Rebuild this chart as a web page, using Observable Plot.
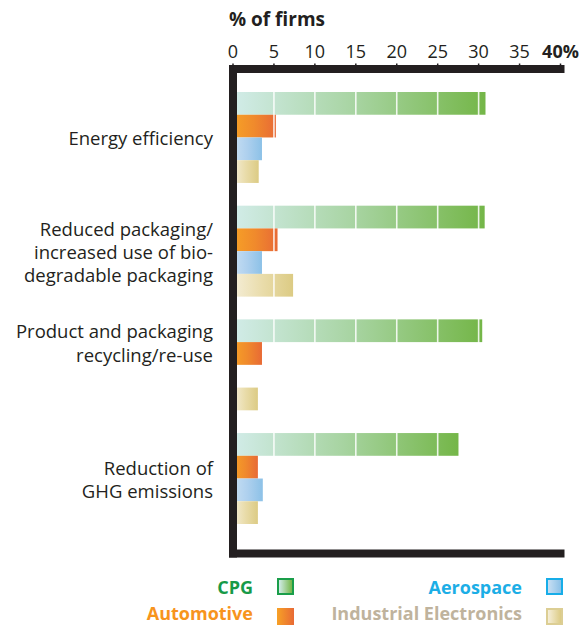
<!DOCTYPE html>
<html>
<head>
<meta charset="utf-8">
<script src="https://cdn.jsdelivr.net/npm/d3@7"></script>
<script src="https://cdn.jsdelivr.net/npm/@observablehq/plot@0.6"></script>
<style>
  body { margin: 0; background: #fff; font-family: "Open Sans", Lato, sans-serif; color: #231f20; overflow: hidden; }
  #wrap { width: 588px; }
  .title { height: 32px; box-sizing: border-box; padding: 5px 0 0 229px; line-height: 28px; font-size: 19px; font-weight: 700; }
  #chart svg { display: block; }
  .legend { display: grid; grid-template-columns: 253px 41px 228px 41px; grid-template-rows: 31px 24px; padding-top: 9px; font-size: 18px; font-weight: 700; }
  .legend .lab { display: flex; justify-content: flex-end; white-space: nowrap; line-height: 18px; }
  .legend .sw { display: flex; }
  .legend .sw span { display: block; width: 17px; height: 17px; box-sizing: border-box; margin-left: 24px; }
  .legend .r0 { align-items: center; }
  .legend .r1 { align-items: flex-end; }
  .legend .lab.r1 { padding-bottom: 4px; }
  .legend .sw.r1 span { margin-bottom: 1px; }
</style>
</head>
<body>
<div id="wrap">
  <div class="title">% of firms</div>
  <div id="chart"></div>
  <div class="legend" id="legend"></div>
</div>
<script>
// Survey categories (y groups) and the four industry series
const categories = [
  "Energy efficiency",
  "Reduced packaging/\nincreased use of bio-\ndegradable packaging",
  "Product and packaging\nrecycling/re-use",
  "Reduction of\nGHG emissions"
];
const series = ["CPG", "Automotive", "Aerospace", "Industrial Electronics"];

// % of firms, one value per category
const cpg        = [30.9, 30.8, 30.5, 27.6];
const automotive = [5.3, 5.5, 3.6, 3.1];
const aerospace  = [3.6, 3.6, 0, 3.7];
const industrial = [3.2, 7.4, 3.1, 3.1];

// Bar beside which each category label is centred (label sits on that bar's top edge)
const labelBar = ["Aerospace", "Aerospace", "Automotive", "Aerospace"];

const xTicks = [0, 5, 10, 15, 20, 25, 30, 35];
const xMax = 40;

// Colours: gradient stops per series, legend text and swatch border colours
const gradients = {
  "CPG": ["#d2ece9", "#a6d39f", "#74b648"],
  "Automotive": ["#f7a126", "#f08a2c", "#e86a35"],
  "Aerospace": ["#c8dff3", "#aed0ee", "#8cc1e7"],
  "Industrial Electronics": ["#f5eed8", "#e9dcaa", "#dccb84"]
};
const legendText = {
  "CPG": "#179a48",
  "Automotive": "#f7941d",
  "Aerospace": "#1caee6",
  "Industrial Electronics": "#bfb39d"
};
const legendBorder = {
  "CPG": "#1a9e4a",
  "Automotive": "#f28a22",
  "Aerospace": "#17ade8",
  "Industrial Electronics": "#dcce94"
};

const values = [cpg, automotive, aerospace, industrial];
const gradId = s => "grad-" + series.indexOf(s);

// One band per bar, with a spacer band between consecutive categories
const yDomain = [];
categories.forEach((c, gi) => {
  if (gi > 0) yDomain.push("gap" + gi);
  series.forEach(s => yDomain.push(gi + "|" + s));
});

const rows = [];
categories.forEach((c, gi) => {
  series.forEach((s, si) => {
    rows.push({key: gi + "|" + s, series: s, value: values[si][gi]});
  });
});
const labelRows = categories.map((c, gi) => ({key: gi + "|" + labelBar[gi], label: c}));

const width = 588, height = 530;
const marginTop = 36.5, marginBottom = 9, marginLeft = 232.5, marginRight = 28;
const insetTop = 23.5, insetBottom = 29;
const bandwidth = (height - marginTop - marginBottom - insetTop - insetBottom) / yDomain.length;

const ink = "#231f20";
const font = "'Open Sans', Lato, sans-serif";

const chart = Plot.plot({
  width, height, marginTop, marginBottom, marginLeft, marginRight,
  style: {fontFamily: font, color: ink, background: "white"},
  x: {domain: [0, xMax], axis: null},
  y: {type: "band", domain: yDomain, paddingInner: 0, paddingOuter: 0, round: false, insetTop, insetBottom, axis: null},
  marks: [
    Plot.barX(rows, {x: "value", y: "key", fill: d => "url(#" + gradId(d.series) + ")"}),
    Plot.ruleX(xTicks.slice(1), {stroke: "white", strokeWidth: 1.6, strokeOpacity: 0.85}),
    Plot.text(labelRows, {
      y: "key", text: "label", frameAnchor: "left", dx: -20, dy: -bandwidth / 2,
      textAnchor: "end", lineAnchor: "middle", fontSize: 18.5, lineHeight: 1.25, fill: ink
    }),
    Plot.frame({anchor: "top", stroke: ink, strokeWidth: 8}),
    Plot.frame({anchor: "bottom", stroke: ink, strokeWidth: 8}),
    Plot.frame({anchor: "left", stroke: ink, strokeWidth: 8, strokeLinecap: "square"}),
    Plot.axisX({
      anchor: "top", ticks: xTicks, tickSize: 6, tickPadding: 5, label: null,
      fontSize: 18, stroke: ink, strokeWidth: 1.5, fill: ink
    }),
    Plot.axisX({
      anchor: "top", ticks: [xMax], tickSize: 6, tickPadding: 5, label: null,
      tickFormat: d => d + "%", fontSize: 18, fontWeight: "bold",
      stroke: ink, strokeWidth: 1.5, fill: ink
    })
  ]
});

// Gradient definitions referenced by the bar fills
const defs = d3.select(chart).insert("defs", ":first-child");
series.forEach(s => {
  const g = defs.append("linearGradient").attr("id", gradId(s))
    .attr("x1", "0").attr("x2", "1").attr("y1", "0").attr("y2", "0");
  const stops = gradients[s];
  stops.forEach((c, i) => g.append("stop").attr("offset", i / (stops.length - 1)).attr("stop-color", c));
});

document.getElementById("chart").appendChild(chart);

// Legend: two rows, two columns
const legend = d3.select("#legend");
const order = [["CPG", "Aerospace"], ["Automotive", "Industrial Electronics"]];
order.forEach((pair, ri) => pair.forEach(s => {
  legend.append("div").attr("class", "lab r" + ri).style("color", legendText[s]).text(s);
  const g = gradients[s];
  legend.append("div").attr("class", "sw r" + ri).append("span")
    .style("background", `linear-gradient(to right, ${g[0]}, ${g[2]})`)
    .style("border", s === "Automotive" ? "none" : `2.5px solid ${legendBorder[s]}`);
}));
</script>
</body>
</html>
